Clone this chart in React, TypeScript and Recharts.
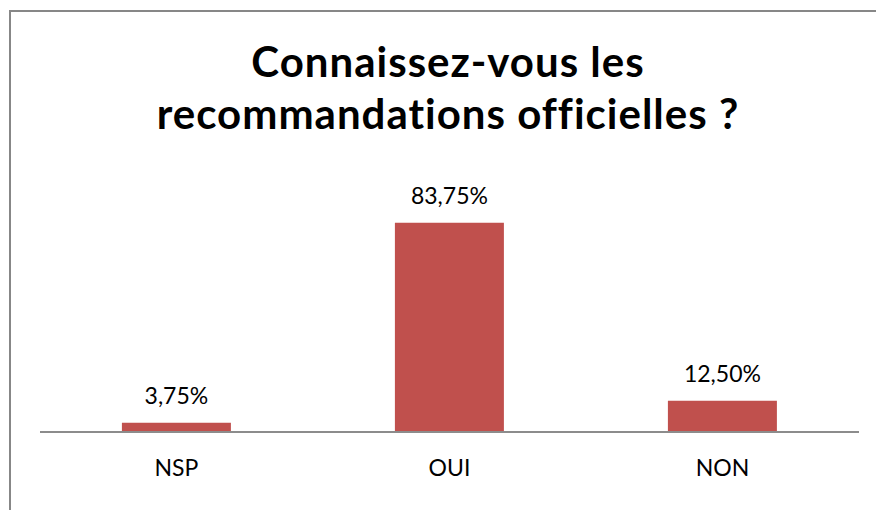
import React from "react";
import { BarChart, Bar, XAxis, YAxis, LabelList } from "recharts";

const BAR_COLOR = "#c0504d";
const AXIS_COLOR = "#8c8c8c";
const FONT = "Lato, 'Open Sans', sans-serif";

const categories = ["NSP", "OUI", "NON"];
const percents = [3.75, 83.75, 12.5];
const titleLines = ["Connaissez-vous les", "recommandations officielles ?"];

const data = categories.map((name, i) => ({ name, value: percents[i] }));

function formatPct(v: number): string {
  return v.toFixed(2).replace(".", ",") + "%";
}

const App: React.FC = () => {
  return (
    <div
      style={{
        position: "fixed",
        left: 0,
        top: 0,
        width: 876,
        height: 510,
        overflow: "hidden",
        background: "#fff",
        fontFamily: FONT,
      }}
    >
      <div
        style={{
          position: "absolute",
          left: 9,
          top: 10,
          width: 900,
          height: 600,
          border: "2px solid #878787",
          boxSizing: "border-box",
        }}
      />
      <div
        style={{
          position: "absolute",
          left: 0,
          width: 896,
          top: 35,
          textAlign: "center",
          fontWeight: 700,
          fontSize: 42,
          lineHeight: "52px",
          letterSpacing: 1,
          fontVariantLigatures: "none",
          color: "#000",
        }}
      >
        {titleLines.map((t) => (
          <div key={t}>{t}</div>
        ))}
      </div>
      <div style={{ position: "absolute", left: 0, top: 0 }}>
        <BarChart
          width={876}
          height={510}
          data={data}
          margin={{ top: 207, right: 17, left: 40, bottom: 0 }}
          barCategoryGap="30%"
        >
          <XAxis
            dataKey="name"
            height={78}
            axisLine={{ stroke: AXIS_COLOR, strokeWidth: 2 }}
            tickLine={false}
            tick={{ fontSize: 23, fill: "#000", fontFamily: FONT }}
            tickMargin={22}
          />
          <YAxis hide domain={[0, 90]} />
          <Bar dataKey="value" fill={BAR_COLOR} isAnimationActive={false}>
            <LabelList
              dataKey="value"
              position="top"
              offset={19}
              formatter={(v: number) => formatPct(Number(v))}
              style={{ fontSize: 23, fill: "#000", fontFamily: FONT }}
            />
          </Bar>
        </BarChart>
      </div>
    </div>
  );
};

export default App;
